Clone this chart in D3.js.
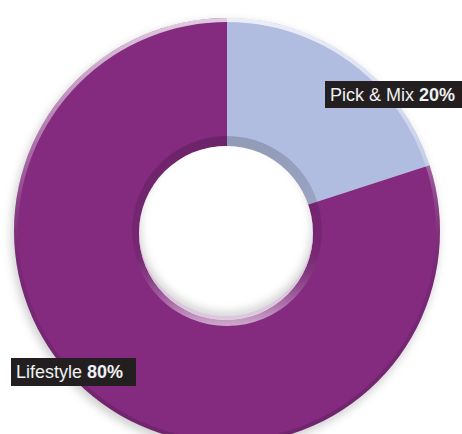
<!DOCTYPE html>
<html><head><meta charset="utf-8">
<script src="https://cdn.jsdelivr.net/npm/d3@7"></script>
<style>html,body{margin:0;padding:0;background:#fff}svg{display:block}</style>
</head><body>
<script>
const categories = ["Pick & Mix", "Lifestyle"];
const values = [20, 80];
const colors = ["#b1bde0", "#842b80"];
const labelNames = ["Pick & Mix", "Lifestyle"];
const labelValues = ["20%", "80%"];

const W = 462, H = 434;
const cx = 227, cy = 231, R = 213, r = 95, hole = 87;

const svg = d3.select("body").append("svg").attr("width", W).attr("height", H);
const defs = svg.append("defs");

const blur = defs.append("filter").attr("id", "sh").attr("x", "-20%").attr("y", "-20%").attr("width", "140%").attr("height", "140%");
blur.append("feGaussianBlur").attr("stdDeviation", 4);

defs.append("clipPath").attr("id", "holeClip").append("circle").attr("cx", cx - 1).attr("cy", cy + 2).attr("r", hole);

const rimGrad = defs.append("linearGradient").attr("id", "rim").attr("x1", 0).attr("y1", 0).attr("x2", 0).attr("y2", 1);
rimGrad.append("stop").attr("offset", "0%").attr("stop-color", "#fff").attr("stop-opacity", 0.75);
rimGrad.append("stop").attr("offset", "35%").attr("stop-color", "#fff").attr("stop-opacity", 0.25);
rimGrad.append("stop").attr("offset", "60%").attr("stop-color", "#000").attr("stop-opacity", 0.08);
rimGrad.append("stop").attr("offset", "100%").attr("stop-color", "#000").attr("stop-opacity", 0.15);

const innerGrad = defs.append("linearGradient").attr("id", "innerRim").attr("x1", 0).attr("y1", 0).attr("x2", 0).attr("y2", 1);
innerGrad.append("stop").attr("offset", "0%").attr("stop-color", "#000").attr("stop-opacity", 0.18);
innerGrad.append("stop").attr("offset", "60%").attr("stop-color", "#000").attr("stop-opacity", 0.1);
innerGrad.append("stop").attr("offset", "85%").attr("stop-color", "#fff").attr("stop-opacity", 0.25);
innerGrad.append("stop").attr("offset", "100%").attr("stop-color", "#fff").attr("stop-opacity", 0.6);

// outer soft shadow
svg.append("circle").attr("cx", cx - 2).attr("cy", cy + 4).attr("r", R + 1)
  .attr("fill", "#9a9a9a").attr("opacity", 0.45).attr("filter", "url(#sh)");

const pie = d3.pie().sort(null).value(d => d)(values);
const arc = d3.arc().innerRadius(hole - 2).outerRadius(R);

const g = svg.append("g").attr("transform", `translate(${cx},${cy})`);
g.selectAll("path.slice").data(pie).join("path").attr("class", "slice")
  .attr("d", arc).attr("fill", (d, i) => colors[i]);

// outer rim highlight
g.append("circle").attr("r", R - 2).attr("fill", "none")
  .attr("stroke", "url(#rim)").attr("stroke-width", 4);

// inner bevel band between hole and ring
g.append("path")
  .attr("d", d3.arc().innerRadius(hole - 2).outerRadius(r)({startAngle: 0, endAngle: 2 * Math.PI}))
  .attr("fill", "url(#innerRim)");

// hole
svg.append("circle").attr("cx", cx - 1).attr("cy", cy + 2).attr("r", hole).attr("fill", "#fff");
// inner shadow at top of hole
svg.append("g").attr("clip-path", "url(#holeClip)")
  .append("circle").attr("cx", cx - 1).attr("cy", cy - 5).attr("r", hole + 3)
  .attr("fill", "none").attr("stroke", "#a0a0a0").attr("stroke-width", 8)
  .attr("opacity", 0.5).attr("filter", "url(#sh)");
// light highlight at bottom of hole edge
svg.append("g").attr("clip-path", "url(#holeClip)")
  .append("circle").attr("cx", cx - 1).attr("cy", cy - 2).attr("r", hole + 2)
  .attr("fill", "none").attr("stroke", "#d9b8d8").attr("stroke-width", 4)
  .attr("opacity", 0.6);

// labels
const labelPos = [[325, 81, 137, 27], [11, 358, 125, 28]];
const lg = svg.selectAll("g.lab").data(categories).join("g").attr("class", "lab");
lg.append("rect")
  .attr("x", (d, i) => labelPos[i][0]).attr("y", (d, i) => labelPos[i][1])
  .attr("width", (d, i) => labelPos[i][2]).attr("height", (d, i) => labelPos[i][3])
  .attr("fill", "#231f20");
const t = lg.append("text")
  .attr("x", (d, i) => labelPos[i][0] + 5)
  .attr("y", (d, i) => labelPos[i][1] + 20)
  .attr("font-family", "Liberation Sans, Arial, sans-serif")
  .attr("font-size", 18).attr("fill", "#f0f0f0");
t.append("tspan").text((d, i) => labelNames[i] + " ");
t.append("tspan").attr("font-weight", "bold").text((d, i) => labelValues[i]);
</script>
</body></html>
